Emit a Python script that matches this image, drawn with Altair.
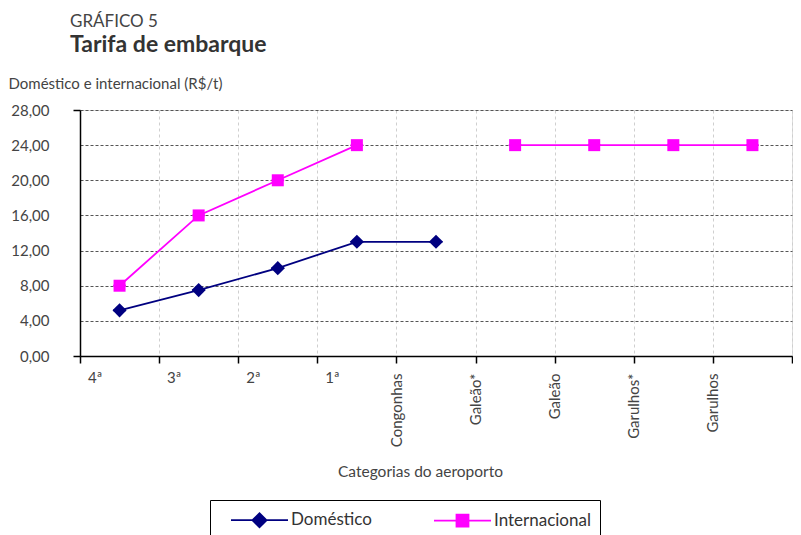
import altair as alt
import pandas as pd

categories = ["4ª", "3ª", "2ª", "1ª", "Congonhas", "Galeão*", "Galeão", "Garulhos*", "Garulhos"]
series_names = ["Doméstico", "Internacional"]
domestico = [5.2, 7.5, 10.0, 13.0, 13.0]
internacional = [8.0, 16.0, 20.0, 24.0, None, 24.0, 24.0, 24.0, 24.0]
y_ticks = [0, 4, 8, 12, 16, 20, 24, 28]
colors = ["#000080", "#ff00ff"]

rows = []
for c, v in zip(categories, domestico):
    rows.append({"cat": c, "serie": series_names[0], "valor": v})
for c, v in zip(categories, internacional):
    rows.append({"cat": c, "serie": series_names[1], "valor": v})
df = pd.DataFrame(rows)

FONT = "Lato"
W = 712
STEP = W / len(categories)
xscale = alt.Scale(type="band", paddingInner=0, paddingOuter=0, domain=categories)

x_main = alt.X(
    "cat:N", sort=categories, scale=xscale,
    axis=alt.Axis(
        title="Categorias do aeroporto", orient="bottom",
        titleFont=FONT, titleFontSize=15.5, titleFontWeight="normal", titleColor="#444",
        titleX=340, titleY=120, titleBaseline="alphabetic", titleAlign="center",
        labelExpr="length(datum.label) > 3 ? datum.label : ''",
        labelFont=FONT, labelFontSize=15, labelColor="#444",
        labelAngle=-90, labelAlign="right", labelBaseline="middle", labelOffset=-STEP / 2,
        labelOverlap=False, labelBound=False, labelPadding=10,
        tickBand="extent", tickSize=7, tickColor="#000", tickWidth=1.5,
        domainColor="#000", domainWidth=1.5,
        grid=True, gridColor="#cfcfcf", gridDash=[3, 3], gridWidth=1,
    ),
)
x_short = alt.X(
    "cat:N", sort=categories, scale=xscale,
    axis=alt.Axis(
        title=None, orient="bottom",
        labelExpr="length(datum.label) <= 3 ? datum.label : ''",
        labelFont=FONT, labelFontSize=15, labelColor="#444",
        labelAngle=0, labelAlign="left", labelBaseline="top", labelOffset=-STEP / 2 + 8,
        labelOverlap=False, labelBound=False, labelPadding=14,
        ticks=False, domain=False, grid=False,
    ),
)
x_none = alt.X("cat:N", sort=categories, scale=xscale, axis=None)

y_enc = alt.Y(
    "valor:Q",
    scale=alt.Scale(domain=[0, 28], nice=False, zero=True),
    axis=alt.Axis(
        title="Doméstico e internacional (R$/t)",
        titleFont=FONT, titleFontSize=15, titleFontWeight="normal", titleColor="#444",
        titleAngle=0, titleAlign="left", titleBaseline="alphabetic",
        titleX=-72, titleY=-22,
        values=y_ticks,
        labelExpr="replace(format(datum.value, '.2f'), '.', ',')",
        labelFont=FONT, labelFontSize=15, labelColor="#444", labelPadding=24,
        tickSize=7, tickColor="#000", tickWidth=1.5,
        tickOpacity=alt.condition("datum.value == 0 || datum.value == 28", alt.value(1), alt.value(0)),
        domainColor="#000", domainWidth=1.5,
        grid=True, gridColor="#555", gridDash=[3, 2], gridWidth=1,
    ),
)

# legend symbols: a line with the marker in the middle (unit = 10 px)
sym_dom = "M-2.85,0H2.85M-0.7,0L0,-0.7L0.7,0L0,0.7Z"
sym_int = "M-2.85,0H2.85M-0.6,-0.6H0.6V0.6H-0.6Z"

leg = alt.Legend(
    title=None, orient="none", legendX=130, legendY=390, direction="horizontal",
    labelFont=FONT, labelFontSize=17, labelColor="#333",
    symbolSize=400, symbolStrokeWidth=1.8, symbolOffset=29.5, labelOffset=20.5,
    columnPadding=50, strokeColor="#000", padding=9,
)

lines = alt.Chart(df).mark_line(strokeWidth=1.8, invalid="break-paths-show-domains").encode(
    x=x_main,
    y=y_enc,
    color=alt.Color("serie:N", scale=alt.Scale(domain=series_names, range=colors), legend=None),
)

pts_dom = alt.Chart(df).transform_filter(
    f"datum.serie == '{series_names[0]}' && isValid(datum.valor)"
).mark_point(shape="diamond", filled=True, size=200, color=colors[0], opacity=1).encode(
    x=x_short, y=y_enc
)
pts_int = alt.Chart(df).transform_filter(
    f"datum.serie == '{series_names[1]}' && isValid(datum.valor)"
).mark_point(shape="square", filled=True, size=144, color=colors[1], opacity=1).encode(
    x=x_none, y=y_enc
)

legend_layer = alt.Chart(df).transform_filter("isValid(datum.valor)").mark_point(
    filled=True, opacity=1, strokeWidth=1.8, size=20
).encode(
    x=x_none,
    y=y_enc,
    fill=alt.Fill("serie:N", scale=alt.Scale(domain=series_names, range=colors), legend=leg),
    stroke=alt.Stroke("serie:N", scale=alt.Scale(domain=series_names, range=colors), legend=leg),
    shape=alt.Shape("serie:N", scale=alt.Scale(domain=series_names, range=[sym_dom, sym_int]), legend=leg),
)

chart = alt.layer(legend_layer, lines, pts_dom, pts_int).resolve_axis(x="independent").properties(
    width=W,
    height=246,
    padding={"left": 0, "right": 0, "top": 5, "bottom": 0},
    title=alt.TitleParams(
        text="GRÁFICO 5",
        subtitle="Tarifa de embarque",
        anchor="start", frame="bounds", dx=62,
        font=FONT, fontSize=17, fontWeight="normal", color="#444",
        subtitleFont=FONT, subtitleFontSize=23, subtitleFontWeight="bold", subtitleColor="#333",
        subtitlePadding=3, offset=18,
    ),
).configure_view(stroke="#808080", strokeWidth=2).configure(background="white")

chart.save("out.html", embed_options={"renderer": "svg", "actions": False})
